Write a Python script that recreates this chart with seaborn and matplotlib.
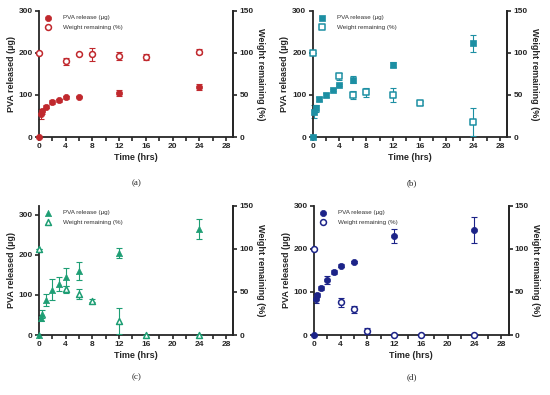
import numpy as np
import pandas as pd
import matplotlib
matplotlib.use("Agg")
import matplotlib.pyplot as plt
import seaborn as sns

sns.set_style("ticks")
plt.rcParams['font.family'] = ['Liberation Sans', 'DejaVu Sans']

# ---------------- data ----------------
t_rel = [0, 0.25, 0.5, 1, 2, 3, 4, 6, 12, 24]
t_wt = [0, 4, 6, 8, 12, 16, 24]

# panel a
a_rel = [0, 54, 61, 72, 83, 87, 94, 96, 105, 119]
a_rel_err = [0, 12, 6, 4, 5, 3, 4, 2, 7, 8]
a_wt = [100, 90, 98, 98, 96.5, 95, 101.5]
a_wt_err = [0, 4, 1, 8, 5, 3, 3]

# panel b
b_rel = [0, 60, 68, 90, 100, 112, 124, 136, 172, 223]
b_rel_err = [0, 15, 8, 4, 4, 3, 3, 8, 5, 20]
b_wt = [100, 72, 50, 53, 50, 40.5, 18]
b_wt_err = [0, 4, 5, 5, 8, 2, 17]

# panel c
c_rel = [0, 43, 53, 88, 113, 128, 145, 160, 205, 266]
c_rel_err = [0, 8, 10, 15, 26, 18, 22, 22, 12, 25]
c_wt = [100, 53, 47.5, 40, 16, 0, 0]
c_wt_err = [0, 4, 6, 2, 15, 0, 0]

# panel d
d_rel = [0, 84, 93, 109, 127, 146, 161, 170, 230, 243]
d_rel_err = [0, 10, 5, 4, 9, 5, 3, 2, 16, 30]
d_wt = [100, 38, 30, 4.7, 0, 0, 0]
d_wt_err = [0, 5, 4, 3, 0, 0, 0]

panels = [
    ("(a)", a_rel, a_rel_err, a_wt, a_wt_err, "#C0282D", "o", 300),
    ("(b)", b_rel, b_rel_err, b_wt, b_wt_err, "#1C8FA3", "s", 300),
    ("(c)", c_rel, c_rel_err, c_wt, c_wt_err, "#1E9E74", "^", 323),
    ("(d)", d_rel, d_rel_err, d_wt, d_wt_err, "#1C2388", "o", 300),
]

W, H = 550, 395
fig = plt.figure(figsize=(W / 100, H / 100), dpi=100)

boxes = [
    (39, 10.7, 233.3, 137),
    (312.7, 10.7, 507.3, 137),
    (39, 205.7, 233.3, 335),
    (314, 205.7, 508.6, 335),
]
title_pos = [(137, 183), (412, 183), (137, 377), (412, 377)]

for (lab, rel, rel_err, wt, wt_err, col, mk, ytop), (x0, y0, x1, y1), (tx, ty) in zip(panels, boxes, title_pos):
    ax = fig.add_axes([x0 / W, 1 - y1 / H, (x1 - x0) / W, (y1 - y0) / H])
    ax2 = ax.twinx()
    df_r = pd.DataFrame({"t": t_rel, "v": rel, "e": rel_err})
    df_w = pd.DataFrame({"t": t_wt, "v": wt, "e": wt_err})

    ax.errorbar(df_r["t"], df_r["v"], yerr=df_r["e"], fmt="none", ecolor=col,
                elinewidth=0.8, capsize=2, capthick=0.8, clip_on=False, zorder=2)
    sns.scatterplot(data=df_r, x="t", y="v", ax=ax, marker=mk, s=20, color=col,
                    edgecolor=col, linewidth=0.5, clip_on=False, zorder=3,
                    label="PVA release (µg)", legend=False)
    ax2.errorbar(df_w["t"], df_w["v"], yerr=df_w["e"], fmt="none", ecolor=col,
                 elinewidth=0.8, capsize=2, capthick=0.8, clip_on=False, zorder=2)
    sns.scatterplot(data=df_w, x="t", y="v", ax=ax2, marker=mk, s=18, facecolor="white",
                    edgecolor=col, linewidth=1.1, clip_on=False, zorder=3,
                    label="Weight remaining (%)", legend=False)

    ax.set_xlim(0, 29.1)
    ax.set_ylim(0, ytop)
    ax2.set_ylim(0, 150)
    ax.set_xticks(np.arange(0, 29, 4))
    ax.set_xticks(np.arange(2, 29, 4), minor=True)
    ax.set_yticks([0, 100, 200, 300])
    ax2.set_yticks([0, 50, 100, 150])

    for a in (ax, ax2):
        for s in a.spines.values():
            s.set_linewidth(1.3)
        a.spines["top"].set_visible(False)
        a.tick_params(which="both", direction="out", length=3, width=1.2,
                      labelsize=6, pad=1.5)
        for tl in a.get_xticklabels() + a.get_yticklabels():
            tl.set_fontweight("bold")
    ax.spines["right"].set_visible(True)
    ax2.spines["left"].set_visible(False)
    ax2.spines["bottom"].set_visible(False)

    ax.set_xlabel("Time (hrs)", fontsize=6.5, fontweight="bold", labelpad=2)
    ax.set_ylabel("PVA released (µg)", fontsize=6.5, fontweight="bold", labelpad=2)
    ax2.set_ylabel("Weight remaining (%)", fontsize=6.5, fontweight="bold",
                   rotation=270, labelpad=8)

    h1, l1 = ax.get_legend_handles_labels()
    h2, l2 = ax2.get_legend_handles_labels()
    leg = ax2.legend(h1 + h2, l1 + l2, loc="upper left", bbox_to_anchor=(0.01, 1.0),
                     frameon=False, fontsize=4.5, handletextpad=1.8, labelspacing=0.6,
                     borderaxespad=0.3, handlelength=1.0)
    for txt in leg.get_texts():
        txt.set_color("#333333")

    fig.text(tx / W, 1 - ty / H, lab, ha="center", va="center", fontsize=6.5,
             family=["Liberation Serif", "DejaVu Serif"])

fig.savefig("out.png", dpi=100)
